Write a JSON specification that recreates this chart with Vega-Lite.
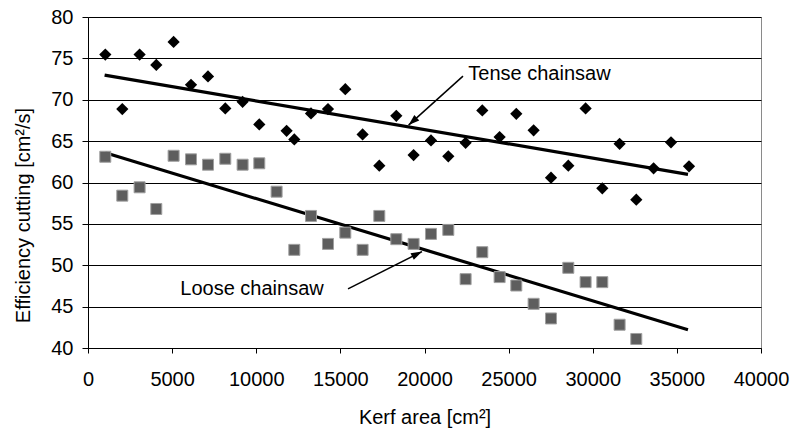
{
  "$schema": "https://vega.github.io/schema/vega-lite/v6.json",
  "width": 673,
  "height": 331,
  "autosize": "none",
  "padding": {"left": 88, "top": 17, "right": 29, "bottom": 80},
  "background": "white",
  "config": {
    "view": {"stroke": "#8a8a8a", "strokeWidth": 1},
    "font": "Liberation Sans",
    "axis": {
      "labelFont": "Liberation Sans",
      "titleFont": "Liberation Sans",
      "labelFontSize": 20,
      "titleFontSize": 20,
      "labelColor": "#000",
      "titleColor": "#000",
      "titleFontWeight": "normal",
      "domainColor": "#000",
      "tickColor": "#000",
      "domainWidth": 1,
      "tickWidth": 1
    }
  },
  "datasets": {
    "pts": [
      {"series": "Tense chainsaw", "kerf": 1028, "eff": 75.46},
      {"series": "Tense chainsaw", "kerf": 2038, "eff": 68.87},
      {"series": "Tense chainsaw", "kerf": 3067, "eff": 75.46},
      {"series": "Tense chainsaw", "kerf": 4059, "eff": 74.21},
      {"series": "Tense chainsaw", "kerf": 5088, "eff": 76.98},
      {"series": "Tense chainsaw", "kerf": 6122, "eff": 71.80},
      {"series": "Tense chainsaw", "kerf": 7132, "eff": 72.81},
      {"series": "Tense chainsaw", "kerf": 8160, "eff": 68.95},
      {"series": "Tense chainsaw", "kerf": 9189, "eff": 69.75},
      {"series": "Tense chainsaw", "kerf": 10181, "eff": 67.02},
      {"series": "Tense chainsaw", "kerf": 11804, "eff": 66.25},
      {"series": "Tense chainsaw", "kerf": 12262, "eff": 65.21},
      {"series": "Tense chainsaw", "kerf": 13254, "eff": 68.35},
      {"series": "Tense chainsaw", "kerf": 14264, "eff": 68.87},
      {"series": "Tense chainsaw", "kerf": 15293, "eff": 71.28},
      {"series": "Tense chainsaw", "kerf": 16321, "eff": 65.81},
      {"series": "Tense chainsaw", "kerf": 17314, "eff": 62.03},
      {"series": "Tense chainsaw", "kerf": 18324, "eff": 68.06},
      {"series": "Tense chainsaw", "kerf": 19352, "eff": 63.32},
      {"series": "Tense chainsaw", "kerf": 20386, "eff": 65.09},
      {"series": "Tense chainsaw", "kerf": 21415, "eff": 63.16},
      {"series": "Tense chainsaw", "kerf": 22443, "eff": 64.80},
      {"series": "Tense chainsaw", "kerf": 23435, "eff": 68.71},
      {"series": "Tense chainsaw", "kerf": 24464, "eff": 65.49},
      {"series": "Tense chainsaw", "kerf": 25456, "eff": 68.30},
      {"series": "Tense chainsaw", "kerf": 26485, "eff": 66.30},
      {"series": "Tense chainsaw", "kerf": 27519, "eff": 60.58},
      {"series": "Tense chainsaw", "kerf": 28547, "eff": 62.03},
      {"series": "Tense chainsaw", "kerf": 29575, "eff": 68.95},
      {"series": "Tense chainsaw", "kerf": 30568, "eff": 59.30},
      {"series": "Tense chainsaw", "kerf": 31596, "eff": 64.68},
      {"series": "Tense chainsaw", "kerf": 32588, "eff": 57.93},
      {"series": "Tense chainsaw", "kerf": 33617, "eff": 61.71},
      {"series": "Tense chainsaw", "kerf": 34651, "eff": 64.85},
      {"series": "Tense chainsaw", "kerf": 35721, "eff": 61.95},
      {"series": "Loose chainsaw", "kerf": 1028, "eff": 63.11},
      {"series": "Loose chainsaw", "kerf": 2038, "eff": 58.41},
      {"series": "Loose chainsaw", "kerf": 3067, "eff": 59.42},
      {"series": "Loose chainsaw", "kerf": 4059, "eff": 56.80},
      {"series": "Loose chainsaw", "kerf": 5088, "eff": 63.23},
      {"series": "Loose chainsaw", "kerf": 6122, "eff": 62.80},
      {"series": "Loose chainsaw", "kerf": 7132, "eff": 62.15},
      {"series": "Loose chainsaw", "kerf": 8160, "eff": 62.87},
      {"series": "Loose chainsaw", "kerf": 9189, "eff": 62.15},
      {"series": "Loose chainsaw", "kerf": 10181, "eff": 62.32},
      {"series": "Loose chainsaw", "kerf": 11210, "eff": 58.89},
      {"series": "Loose chainsaw", "kerf": 12262, "eff": 51.86},
      {"series": "Loose chainsaw", "kerf": 13254, "eff": 55.96},
      {"series": "Loose chainsaw", "kerf": 14264, "eff": 52.58},
      {"series": "Loose chainsaw", "kerf": 15293, "eff": 53.94},
      {"series": "Loose chainsaw", "kerf": 16321, "eff": 51.86},
      {"series": "Loose chainsaw", "kerf": 17314, "eff": 55.96},
      {"series": "Loose chainsaw", "kerf": 18324, "eff": 53.15},
      {"series": "Loose chainsaw", "kerf": 19352, "eff": 52.58},
      {"series": "Loose chainsaw", "kerf": 20386, "eff": 53.79},
      {"series": "Loose chainsaw", "kerf": 21415, "eff": 54.27},
      {"series": "Loose chainsaw", "kerf": 22443, "eff": 48.32},
      {"series": "Loose chainsaw", "kerf": 23435, "eff": 51.58},
      {"series": "Loose chainsaw", "kerf": 24464, "eff": 48.57},
      {"series": "Loose chainsaw", "kerf": 25456, "eff": 47.55},
      {"series": "Loose chainsaw", "kerf": 26485, "eff": 45.34},
      {"series": "Loose chainsaw", "kerf": 27519, "eff": 43.57},
      {"series": "Loose chainsaw", "kerf": 28547, "eff": 49.69},
      {"series": "Loose chainsaw", "kerf": 29575, "eff": 47.96},
      {"series": "Loose chainsaw", "kerf": 30568, "eff": 47.96},
      {"series": "Loose chainsaw", "kerf": 31596, "eff": 42.81},
      {"series": "Loose chainsaw", "kerf": 32588, "eff": 41.09}
    ],
    "trend": [
      {"series": "Tense chainsaw", "kerf": 987, "eff": 72.97},
      {"series": "Tense chainsaw", "kerf": 35660, "eff": 60.99},
      {"series": "Loose chainsaw", "kerf": 1028, "eff": 63.59},
      {"series": "Loose chainsaw", "kerf": 35660, "eff": 42.21}
    ],
    "arrows": [
      {"id": "tense", "head": false, "kerf": 22288, "eff": 72.85},
      {"id": "tense", "head": true, "kerf": 19055, "eff": 66.94},
      {"id": "loose", "head": false, "kerf": 15453, "eff": 47.15},
      {"id": "loose", "head": true, "kerf": 19851, "eff": 51.65}
    ],
    "labels": [
      {"label": "Tense chainsaw", "kerf": 22603, "eff": 72.36},
      {"label": "Loose chainsaw", "kerf": 5486, "eff": 46.43}
    ]
  },
  "encoding": {
    "x": {
      "field": "kerf",
      "type": "quantitative",
      "scale": {"domain": [0, 40000], "nice": false, "zero": false},
      "axis": {
        "title": "Kerf area [cm²]",
        "values": [0, 5000, 10000, 15000, 20000, 25000, 30000, 35000, 40000],
        "format": "d",
        "grid": false,
        "tickSize": 5,
        "labelPadding": 16,
        "labelFlush": false,
        "labelOverlap": false,
        "titleY": 59
      }
    },
    "y": {
      "field": "eff",
      "type": "quantitative",
      "scale": {"domain": [40, 80], "nice": false, "zero": false},
      "axis": {
        "title": "Efficiency cutting [cm²/s]",
        "values": [40, 45, 50, 55, 60, 65, 70, 75, 80],
        "grid": true,
        "gridColor": "#000",
        "gridWidth": 1,
        "gridOpacity": 1,
        "tickSize": 6,
        "labelPadding": 9,
        "labelFlush": false,
        "labelOverlap": false,
        "titleX": -55,
        "titleY": 198
      }
    }
  },
  "layer": [
    {
      "data": {"name": "trend"},
      "mark": {"type": "line", "color": "#000", "strokeWidth": 3.2},
      "encoding": {"detail": {"field": "series"}}
    },
    {
      "data": {"name": "pts"},
      "transform": [{"filter": "datum.series === 'Loose chainsaw'"}],
      "mark": {"type": "point", "shape": "square", "filled": true, "fill": "#5e5e5e", "stroke": "#a0a0a0", "strokeWidth": 1, "opacity": 1, "size": 121}
    },
    {
      "data": {"name": "pts"},
      "transform": [{"filter": "datum.series === 'Tense chainsaw'"}],
      "mark": {"type": "point", "shape": "diamond", "filled": true, "color": "#000", "opacity": 1, "size": 150}
    },
    {
      "data": {"name": "arrows"},
      "mark": {"type": "line", "color": "#000", "strokeWidth": 1.5},
      "encoding": {"detail": {"field": "id"}}
    },
    {
      "data": {"name": "arrows"},
      "transform": [{"filter": "datum.head && datum.id === 'tense'"}],
      "mark": {"type": "point", "shape": "M0,0L-0.6,1.8L0.6,1.8Z", "angle": 228, "filled": true, "color": "#000", "opacity": 1, "size": 150}
    },
    {
      "data": {"name": "arrows"},
      "transform": [{"filter": "datum.head && datum.id === 'loose'"}],
      "mark": {"type": "point", "shape": "M0,0L-0.6,1.8L0.6,1.8Z", "angle": 63, "filled": true, "color": "#000", "opacity": 1, "size": 150}
    },
    {
      "data": {"name": "labels"},
      "mark": {"type": "text", "align": "left", "baseline": "alphabetic", "fontSize": 20, "font": "Liberation Sans", "color": "#000"},
      "encoding": {"text": {"field": "label"}}
    }
  ]
}
